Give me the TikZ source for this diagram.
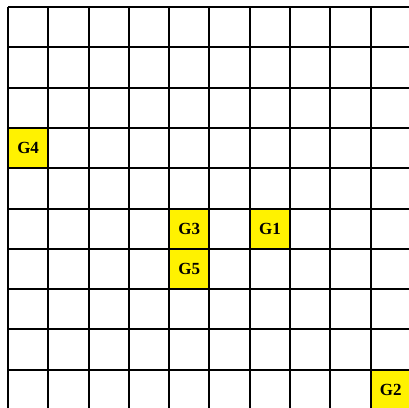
\documentclass[tikz,border=0pt]{standalone}
\usepackage{fontspec}
\setmainfont{Liberation Serif}
\begin{document}
\begin{tikzpicture}[x=1cm,y=1cm,
  goal/.style={fill=yellow,minimum size=1cm,inner sep=0pt,
    font=\fontsize{12}{14}\selectfont\bfseries}]
  % Frame of the picture
  \useasboundingbox (-0.198,0.174) rectangle (9.951,-9.950);
  \clip (-0.198,0.174) rectangle (9.951,-9.950);
  % Goal cells
  \node[goal] (g1) at (6.5,-5.5) {G1};
  \node[goal] (g2) at (9.5,-9.5) {G2};
  \node[goal] (g3) at (4.5,-5.5) {G3};
  \node[goal] (g4) at (0.5,-3.5) {G4};
  \node[goal] (g5) at (4.5,-6.5) {G5};
  % Grid
  \foreach \i in {0,...,10} {
    \draw[line width=1.4pt] (\i,0) -- (\i,-10);
    \draw[line width=1.4pt] (0,-\i) -- (10,-\i);
  }
\end{tikzpicture}
\end{document}
